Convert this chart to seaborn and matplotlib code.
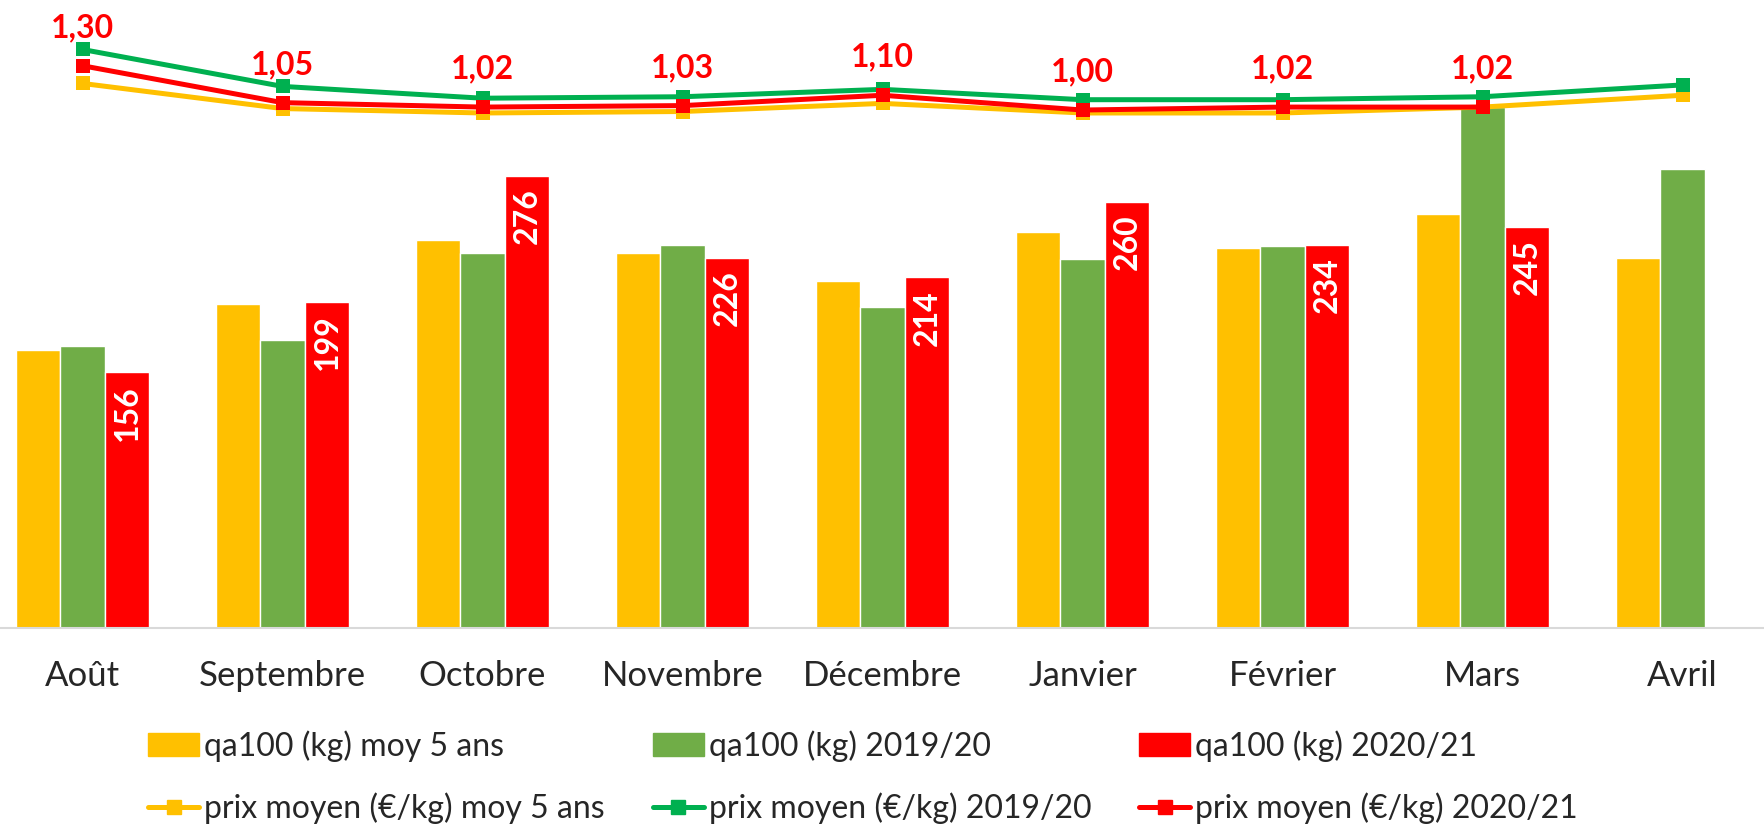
import numpy as np
import pandas as pd
import seaborn as sns
import matplotlib.pyplot as plt
from matplotlib.patches import Patch
from matplotlib.lines import Line2D

mois = ["Août", "Septembre", "Octobre", "Novembre", "Décembre",
        "Janvier", "Février", "Mars", "Avril"]

qa_moy5 = [170, 198, 237, 229, 212, 242, 232, 253, 226]
qa_1920 = [172, 176, 229, 234, 196, 225, 233, 318, 280]
qa_2021 = [156, 199, 276, 226, 214, 260, 234, 245, np.nan]

prix_moy5 = [1.18, 1.01, 0.98, 0.99, 1.045, 0.98, 0.98, 1.02, 1.10]
prix_1920 = [1.41, 1.16, 1.08, 1.09, 1.14, 1.07, 1.07, 1.09, 1.17]
prix_2021 = [1.30, 1.05, 1.02, 1.03, 1.10, 1.00, 1.02, 1.02, np.nan]

series_bar = ["qa100 (kg) moy 5 ans", "qa100 (kg) 2019/20", "qa100 (kg) 2020/21"]
series_line = ["prix moyen (€/kg) moy 5 ans", "prix moyen (€/kg) 2019/20",
               "prix moyen (€/kg) 2020/21"]

JAUNE = "#FFC000"
VERT_BAR = "#70AD47"
VERT_LIGNE = "#00B050"
ROUGE = "#FF0000"

sns.set_style("white")
plt.rcParams["font.family"] = ["Lato", "DejaVu Sans"]

df_bar = pd.DataFrame({
    "mois": mois * 3,
    "serie": [s for s in series_bar for _ in mois],
    "qa": qa_moy5 + qa_1920 + qa_2021,
})

fig = plt.figure(figsize=(17.65, 8.26), dpi=100)
ax = fig.add_axes([0, (826 - 628) / 826, 1, 628 / 826])

sns.barplot(data=df_bar, x="mois", y="qa", hue="serie", order=mois,
            hue_order=series_bar, palette=[JAUNE, VERT_BAR, ROUGE],
            saturation=1, width=0.6675, errorbar=None, legend=False, ax=ax)

ax.set_xlim(-0.4125, 8.4125)
ax.set_ylim(0, 383.4)
ax.set_xlabel("")
ax.set_ylabel("")
ax.set_yticks([])
ax.tick_params(axis="x", length=0, pad=23, labelsize=25)
for s in ["top", "left", "right"]:
    ax.spines[s].set_visible(False)
ax.spines["bottom"].set_color("#d9d9d9")
ax.spines["bottom"].set_linewidth(1.5)

# etiquettes blanches dans les barres 2020/21
for patch, v in zip(ax.containers[2], qa_2021):
    if np.isnan(v):
        continue
    x = patch.get_x() + patch.get_width() / 2
    ax.annotate(f"{int(v)}", (x, v), xytext=(0, -9), textcoords="offset points",
                ha="center", va="top", rotation=90, color="white",
                fontsize=23, fontweight="bold")

ax2 = ax.twinx()
ax2.set_ylim(-2.507, 1.745)
xs = np.arange(len(mois))
for vals, col in [(prix_moy5, JAUNE), (prix_1920, VERT_LIGNE), (prix_2021, ROUGE)]:
    sns.lineplot(x=xs, y=vals, color=col, linewidth=3.6, marker="s",
                 markersize=10, markeredgewidth=0, ax=ax2)
ax2.set_yticks([])
for s in ["top", "left", "right", "bottom"]:
    ax2.spines[s].set_visible(False)

for x, v in zip(xs, prix_2021):
    if np.isnan(v):
        continue
    ax2.annotate(f"{v:.2f}".replace(".", ","), (x, v), xytext=(0, 17),
                 textcoords="offset points", ha="center", va="bottom",
                 color=ROUGE, fontsize=23, fontweight="bold")

handles = [
    Patch(color=JAUNE), Line2D([], [], color=JAUNE, lw=3.6, marker="s", ms=10),
    Patch(color=VERT_BAR), Line2D([], [], color=VERT_LIGNE, lw=3.6, marker="s", ms=10),
    Patch(color=ROUGE), Line2D([], [], color=ROUGE, lw=3.6, marker="s", ms=10),
]
labels = [series_bar[0], series_line[0], series_bar[1], series_line[1],
          series_bar[2], series_line[2]]
fig.legend(handles, labels, loc="center", bbox_to_anchor=(863 / 1765, 1 - 777 / 826),
           ncol=3, frameon=False, fontsize=23, handlelength=1.6, handletextpad=0.15,
           columnspacing=1.5, labelspacing=0.95)

fig.savefig("out.png", dpi=100)
